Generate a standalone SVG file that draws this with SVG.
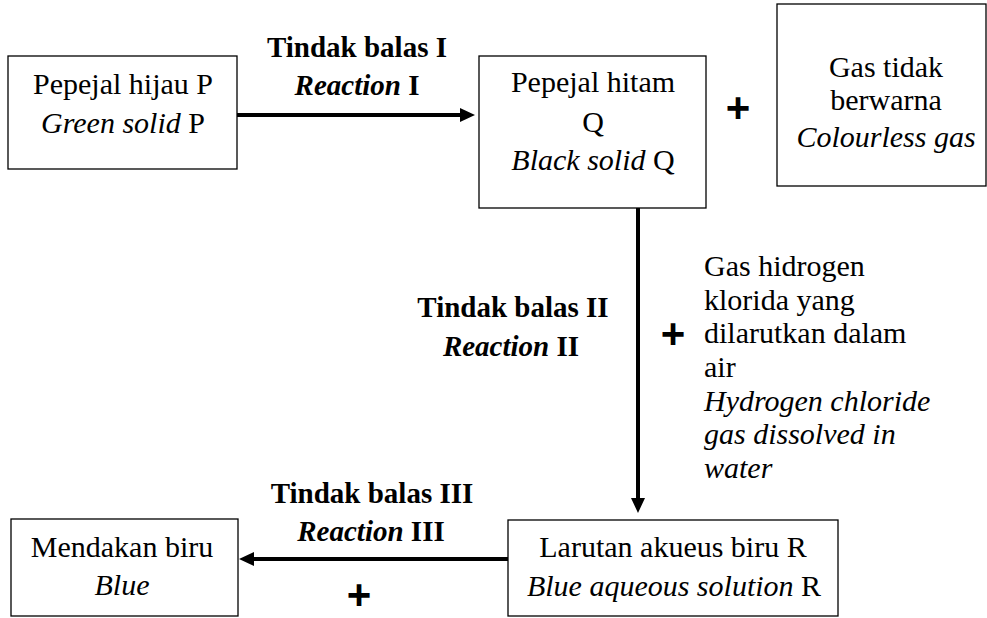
<svg xmlns="http://www.w3.org/2000/svg" width="987" height="618" viewBox="0 0 987 618">
  <style>
    .box { fill: #ffffff; stroke: #000000; stroke-width: 1.3; }
    .t { font-family: "Liberation Serif", "Times New Roman", serif; font-size: 30px; fill: #000000; }
    .c { text-anchor: middle; }
    .b { font-weight: bold; font-size: 29px; }
    .i { font-style: italic; }
    .plus { font-family: "Liberation Sans", Arial, sans-serif; font-weight: bold; font-size: 42px; text-anchor: middle; fill: #000000; }
    .conn { stroke: #000000; stroke-width: 4; fill: none; }
  </style>
  <defs>
    <marker id="head" markerUnits="userSpaceOnUse" markerWidth="16" markerHeight="16" viewBox="0 -8 16 16" refX="0" refY="0" orient="auto">
      <path d="M0,-7 L15,0 L0,7 Z" fill="#000000"/>
    </marker>
  </defs>

  <rect width="987" height="618" fill="#ffffff"/>

  <!-- connectors -->
  <g id="connectors">
    <line class="conn" x1="237" y1="115" x2="460" y2="115" marker-end="url(#head)"/>
    <line class="conn" x1="638" y1="208" x2="638" y2="498" marker-end="url(#head)"/>
    <line class="conn" x1="508" y1="559" x2="254" y2="559" marker-end="url(#head)"/>
  </g>

  <!-- reaction labels -->
  <g id="label-reaction-1">
    <text class="t b c" x="357" y="57">Tindak balas I</text>
    <text class="t b c" x="357" y="95"><tspan class="i">Reaction</tspan> I</text>
  </g>
  <g id="label-reaction-2">
    <text class="t b c" x="513" y="317">Tindak balas II</text>
    <text class="t b c" x="511" y="356"><tspan class="i">Reaction</tspan> II</text>
  </g>
  <g id="label-reaction-3">
    <text class="t b c" x="372" y="503">Tindak balas III</text>
    <text class="t b c" x="371" y="541"><tspan class="i">Reaction</tspan> III</text>
  </g>

  <!-- plus signs -->
  <g id="plus-signs">
    <text class="plus" x="738" y="122">+</text>
    <text class="plus" x="673" y="348">+</text>
    <text class="plus" x="359" y="609">+</text>
  </g>

  <!-- node P -->
  <g id="node-p">
    <rect class="box" x="8" y="56" width="229" height="113"/>
    <text class="t c" x="123" y="94">Pepejal hijau P</text>
    <text class="t c" x="123" y="133"><tspan class="i">Green solid</tspan> P</text>
  </g>

  <!-- node Q -->
  <g id="node-q">
    <rect class="box" x="479" y="56" width="227" height="152"/>
    <text class="t c" x="593" y="92">Pepejal hitam</text>
    <text class="t c" x="593" y="132">Q</text>
    <text class="t c" x="593" y="170"><tspan class="i">Black solid</tspan> Q</text>
  </g>

  <!-- colourless gas -->
  <g id="node-gas">
    <rect class="box" x="777" y="4" width="209" height="182"/>
    <text class="t c" x="886" y="77">Gas tidak</text>
    <text class="t c" x="886" y="110">berwarna</text>
    <text class="t c i" x="886" y="147">Colourless gas</text>
  </g>

  <!-- reagent for reaction II -->
  <g id="reagent-hcl">
    <text class="t" x="704" y="276">Gas hidrogen</text>
    <text class="t" x="704" y="310">klorida yang</text>
    <text class="t" x="704" y="343">dilarutkan dalam</text>
    <text class="t" x="704" y="377">air</text>
    <text class="t i" x="704" y="411">Hydrogen chloride</text>
    <text class="t i" x="704" y="444">gas dissolved in</text>
    <text class="t i" x="704" y="478">water</text>
  </g>

  <!-- node R -->
  <g id="node-r">
    <rect class="box" x="508" y="520" width="330" height="96"/>
    <text class="t c" x="673" y="557">Larutan akueus biru R</text>
    <text class="t c" x="674" y="596"><tspan class="i">Blue aqueous solution</tspan> R</text>
  </g>

  <!-- blue precipitate -->
  <g id="node-precipitate">
    <rect class="box" x="11" y="519" width="227" height="97"/>
    <text class="t c" x="122" y="557">Mendakan biru</text>
    <text class="t c i" x="122" y="595">Blue</text>
  </g>
</svg>
